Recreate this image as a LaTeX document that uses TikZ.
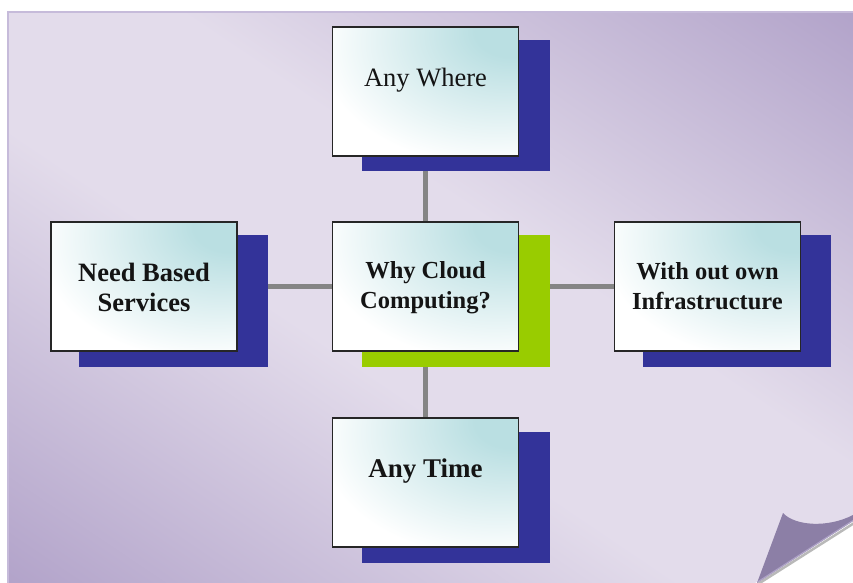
\documentclass[tikz,border=0pt]{standalone}
\usepackage{fontspec}
\setmainfont{Liberation Serif}
\usetikzlibrary{calc}

\definecolor{pagedark}{HTML}{B1A2C9}
\definecolor{pagelight}{HTML}{E3DCEB}
\definecolor{pageedge}{HTML}{C6BBDA}
\definecolor{flapfill}{HTML}{8C7FA6}
\definecolor{flapedge}{HTML}{ADA1C6}
\definecolor{boxcyan}{HTML}{BADFE2}
\definecolor{shadowblue}{HTML}{333399}
\definecolor{shadowgreen}{HTML}{99CC00}
\definecolor{linkgrey}{HTML}{858585}

% paper: light band along the main diagonal, darker towards two corners
\pgfdeclareverticalshading{paperband}{100bp}{color(0bp)=(pagedark); color(25bp)=(pagedark); color(45bp)=(pagelight); color(55bp)=(pagelight); color(75bp)=(pagedark); color(100bp)=(pagedark)}
% card fill: cyan glow in the upper right corner fading to white
\pgfdeclareradialshading{cardglow}{\pgfpoint{25bp}{25bp}}{color(0bp)=(boxcyan); color(10bp)=(boxcyan); color(46bp)=(white); color(150bp)=(white)}

\pgfdeclarelayer{paper}
\pgfdeclarelayer{links}
\pgfsetlayers{paper,links,main}

\tikzset{
  cardbox/.style={draw=black!85, line width=1.8bp, shading=cardglow,
    minimum width=186bp, minimum height=129bp, inner sep=0pt},
  cardshadow/.style={fill=#1, minimum width=188bp, minimum height=131bp, inner sep=0pt},
  cardtext/.style={font=\fontsize{#1}{30bp}\selectfont, align=center,
    anchor=north, inner sep=0pt, text=black!92},
  cardtext/.default=26.5bp,
  link/.style={draw=linkgrey, line width=4.5bp}
}

\begin{document}
\begin{tikzpicture}[x=1bp,y=-1bp]
\useasboundingbox (0,0) rectangle (853,583);

% ---- sheet of paper with a curled corner ----
\begin{pgfonlayer}{paper}
  \begin{scope}
    \clip (8,12) -- (853,12) -- (853,521) -- (755,583) -- (8,583) -- cycle;
    \shade[shading=paperband, transform canvas={rotate around={-34:(430.5,297.5)}}]
      (-270,-182.5) rectangle (1131,777.5);
  \end{scope}
  \draw[pageedge, line width=1.5bp]
    (853,12) -- (8,12) -- (8,583);
  \draw[gray!55, line width=2.5bp] (756.5,585) -- (855,522.5);
  \fill[flapfill] (757,583) -- (783,513)
    .. controls (795,526) and (828,528) .. (853,515) -- (853,521) -- cycle;
  \draw[flapedge, line width=1.2bp] (757.5,582) -- (853,520.5);
\end{pgfonlayer}

% ---- card positions ----
\coordinate (pWhere) at (425.5,91.5);
\coordinate (pCore)  at (425.5,286.5);
\coordinate (pNeed)  at (144,286.5);
\coordinate (pInfra) at (707.5,286.5);
\coordinate (pTime)  at (425.5,482.5);

% ---- offset shadows ----
\node[cardshadow=shadowblue]  (whereS) at ($(pWhere)+(30.5,14.5)$) {};
\node[cardshadow=shadowgreen] (coreS)  at ($(pCore)+(30.5,14.5)$) {};
\node[cardshadow=shadowblue]  (needS)  at ($(pNeed)+(29.5,14.5)$) {};
\node[cardshadow=shadowblue]  (infraS) at ($(pInfra)+(29.5,14.5)$) {};
\node[cardshadow=shadowblue]  (timeS)  at ($(pTime)+(30.5,14.5)$) {};

% ---- cards ----
\node[cardbox] (where) at (pWhere) {};
\node[cardbox] (core)  at (pCore)  {};
\node[cardbox] (need)  at (pNeed)  {};
\node[cardbox] (infra) at (pInfra) {};
\node[cardbox] (time)  at (pTime)  {};

% ---- card texts ----
\node[cardtext] (whereT) at ([yshift=-42bp]where.north) {Any Where};
\node[cardtext=24.5bp] (coreT) at ([yshift=-40bp]core.north)
  {\bfseries Why Cloud\\\bfseries Computing?};
\node[cardtext] (needT) at ([yshift=-42bp]need.north)
  {\bfseries Need Based\\\bfseries Services};
\node[cardtext=24.5bp] (infraT) at ([yshift=-41bp]infra.north)
  {\bfseries With out own\\\bfseries Infrastructure};
\node[cardtext=27bp] (timeT) at ([yshift=-41bp]time.north) {\bfseries Any Time};

% ---- connectors behind the cards ----
\begin{pgfonlayer}{links}
  \draw[link] (where) -- (core);
  \draw[link] (core) -- (time);
  \draw[link] (need) -- (core);
  \draw[link] (core) -- (infra);
\end{pgfonlayer}
\end{tikzpicture}
\end{document}
